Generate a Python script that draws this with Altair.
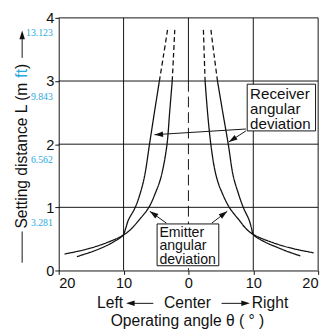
import math
import altair as alt
import pandas as pd

# ---------------- data ----------------
# Emitter angular deviation, solid part (angle in degrees, distance L in m)
emit_left_angle = [-19.1, -15.6, -12.6, -10.1, -8.9, -7.6, -6.1, -5.0, -4.45, -3.95, -3.3, -2.9, -2.5]
emit_left_L = [0.26, 0.34, 0.44, 0.556, 0.65, 0.80, 1.00, 1.25, 1.40, 1.60, 2.00, 2.50, 3.00]
emit_right_angle = [2.57, 2.95, 3.45, 4.05, 4.55, 5.1, 6.3, 7.8, 8.9, 10.0, 13.6, 16.4, 19.3]
emit_right_L = [3.00, 2.50, 2.00, 1.60, 1.40, 1.25, 1.00, 0.80, 0.66, 0.57, 0.42, 0.34, 0.28]
# Emitter, dashed part above 3 m
emit_left_top_angle = [-2.5, -2.3, -2.11]
emit_left_top_L = [3.0, 3.4, 3.81]
emit_right_top_angle = [2.57, 2.44, 2.31]
emit_right_top_L = [3.0, 3.4, 3.81]

# Receiver angular deviation, solid part
recv_left_angle = [-17.2, -14.8, -12.9, -11.6, -10.1, -9.7, -9.25, -8.2, -7.35, -6.75, -6.0, -5.25, -4.48]
recv_left_L = [0.22, 0.30, 0.38, 0.45, 0.556, 0.66, 0.80, 1.00, 1.25, 1.50, 2.00, 2.50, 3.00]
recv_right_angle = [4.48, 5.3, 6.14, 6.9, 7.6, 8.45, 9.35, 9.75, 10.0, 11.8, 13.6, 15.3, 17.25]
recv_right_L = [3.00, 2.50, 2.00, 1.50, 1.25, 1.00, 0.80, 0.66, 0.57, 0.45, 0.37, 0.30, 0.23]
# Receiver, dashed part above 3 m
recv_left_top_angle = [-4.48, -3.85, -3.22]
recv_left_top_L = [3.0, 3.4, 3.81]
recv_right_top_angle = [4.48, 3.97, 3.47]
recv_right_top_L = [3.0, 3.4, 3.81]

x_ticks = [-20, -10, 0, 10, 20]
y_ticks = [0, 1, 2, 3, 4]
grid_x = [-10, 10, 20]
grid_y = [1, 2, 3, 4]
ft_labels = ["3.281", "6.562", "9.843", "13.123"]
ft_label_L = [1, 2, 3, 4]

recv_text = ["Receiver", "angular", "deviation"]
emit_text = ["Emitter", "angular", "deviation"]

# annotation boxes (angle range, L range)
recv_box = dict(a1=9.06, a2=19.6, L1=2.21, L2=2.95)
emit_box = dict(a1=-4.83, a2=4.68, L1=0.075, L2=0.737)

# annotation arrows: start -> tip
arrow_a0 = [8.86, 8.86, -3.4, 3.6]
arrow_L0 = [2.24, 2.21, 0.75, 0.75]
arrow_a1 = [-5.24, 6.23, -5.95, 5.98]
arrow_L1 = [2.15, 2.035, 0.937, 0.937]

# ---------------- layout ----------------
W, H = 266, 259
PX_X = W / 40.0
PX_L = H / 4.0
FONT = "Liberation Sans"
BLUE = "#29a8e0"
INK = "#111"
HEAD = "M0,0L-0.7,2.2L0.7,2.2Z"

xs = alt.Scale(domain=[-20, 20], nice=False, zero=False)
ys = alt.Scale(domain=[0, 4], nice=False, zero=False)

rows = []
def add(name, style, angles, Ls):
    for a, l in zip(angles, Ls):
        rows.append({"curve": name + style, "style": style, "angle": a, "L": l})

add("el", "solid", emit_left_angle, emit_left_L)
add("er", "solid", emit_right_angle, emit_right_L)
add("rl", "solid", recv_left_angle, recv_left_L)
add("rr", "solid", recv_right_angle, recv_right_L)
add("el", "dash", emit_left_top_angle, emit_left_top_L)
add("er", "dash", emit_right_top_angle, emit_right_top_L)
add("rl", "dash", recv_left_top_angle, recv_left_top_L)
add("rr", "dash", recv_right_top_angle, recv_right_top_L)
curve_df = pd.DataFrame(rows)

x_axis = alt.Axis(values=x_ticks, labelExpr="abs(datum.value)", title=None, grid=False)
y_axis = alt.Axis(values=y_ticks, format="d", title=None, grid=False)

curves = alt.Chart(curve_df).mark_line(interpolate="catmull-rom", color=INK, strokeWidth=1.3).encode(
    x=alt.X("angle:Q", scale=xs, axis=x_axis),
    y=alt.Y("L:Q", scale=ys, axis=y_axis),
    detail="curve:N",
    strokeDash=alt.StrokeDash("style:N", scale=alt.Scale(domain=["solid", "dash"], range=[[1, 0], [5, 3]]), legend=None),
)

gx = alt.Chart(pd.DataFrame({"g": grid_x})).mark_rule(color=INK, strokeWidth=1).encode(
    x=alt.X("g:Q", scale=xs))
gy = alt.Chart(pd.DataFrame({"g": grid_y})).mark_rule(color=INK, strokeWidth=1).encode(
    y=alt.Y("g:Q", scale=ys))

center_solid = alt.Chart(pd.DataFrame({"a": [0], "l1": [3], "l2": [4]})).mark_rule(color=INK).encode(
    x=alt.X("a:Q", scale=xs), y=alt.Y("l1:Q", scale=ys), y2="l2:Q")
center_dash = alt.Chart(pd.DataFrame({"a": [0], "l1": [0], "l2": [3]})).mark_rule(
    color=INK, strokeDash=[11, 5]).encode(
    x=alt.X("a:Q", scale=xs), y=alt.Y("l2:Q", scale=ys), y2="l1:Q")

box_df = pd.DataFrame([recv_box, emit_box])
boxes = alt.Chart(box_df).mark_rect(fill="white", stroke=INK, strokeWidth=1).encode(
    x=alt.X("a1:Q", scale=xs), x2="a2:Q", y=alt.Y("L1:Q", scale=ys), y2="L2:Q")

# text baselines measured from each box's top edge (pixels)
recv_off = [15.5, 31.0, 45.5]
emit_off = [13.0, 27.0, 41.0]
recv_txt = alt.Chart(pd.DataFrame({
    "t": recv_text,
    "L": [recv_box["L2"] - o / PX_L for o in recv_off],
    "a": [recv_box["a1"] + 0.45] * 3})).mark_text(
    align="left", baseline="alphabetic", font=FONT, fontSize=15.5, color=INK).encode(
    x=alt.X("a:Q", scale=xs), y=alt.Y("L:Q", scale=ys), text="t:N")
emit_txt = alt.Chart(pd.DataFrame({
    "t": emit_text,
    "L": [emit_box["L2"] - o / PX_L for o in emit_off],
    "a": [emit_box["a1"] + 0.35] * 3})).mark_text(
    align="left", baseline="alphabetic", font=FONT, fontSize=14.5, color=INK).encode(
    x=alt.X("a:Q", scale=xs), y=alt.Y("L:Q", scale=ys), text="t:N")

arr_df = pd.DataFrame({"a0": arrow_a0, "L0": arrow_L0, "a1": arrow_a1, "L1": arrow_L1})
arr_df["rot"] = [
    math.degrees(math.atan2((a1 - a0) * PX_X, (L1 - L0) * PX_L)) % 360
    for a0, L0, a1, L1 in zip(arrow_a0, arrow_L0, arrow_a1, arrow_L1)
]
arr_lines = alt.Chart(arr_df).mark_rule(color=INK, strokeWidth=1).encode(
    x=alt.X("a0:Q", scale=xs), y=alt.Y("L0:Q", scale=ys), x2="a1:Q", y2="L1:Q")
arr_heads = alt.Chart(arr_df).mark_point(shape=HEAD, filled=True, fill=INK, size=64, strokeWidth=0, opacity=1).encode(
    x=alt.X("a1:Q", scale=xs), y=alt.Y("L1:Q", scale=ys), angle=alt.Angle("rot:Q", scale=None))

ft = alt.Chart(pd.DataFrame({"t": ft_labels, "L": ft_label_L})).mark_text(
    align="right", baseline="middle", dy=16, font="Liberation Sans Narrow", fontSize=10, color=BLUE).encode(
    x=alt.value(-6), y=alt.Y("L:Q", scale=ys), text="t:N")

def txt(text, px, py, **kw):
    return alt.Chart(pd.DataFrame({"t": [text]})).mark_text(font=FONT, **kw).encode(
        x=alt.value(px), y=alt.value(py), text="t:N")

def seg(x1, y1, x2, y2):
    return alt.Chart(pd.DataFrame({"k": [0]})).mark_rule(color=INK, strokeWidth=1).encode(
        x=alt.value(x1), y=alt.value(y1), x2=alt.value(x2), y2=alt.value(y2))

def head(px, py, rot):
    return alt.Chart(pd.DataFrame({"k": [0]})).mark_point(
        shape=HEAD, filled=True, fill=INK, size=64, strokeWidth=0, opacity=1).encode(
        x=alt.value(px), y=alt.value(py), angle=alt.value(rot))

# y title: "Setting distance L (m ft)" with ft in blue
fs = 16
ty0 = 216
w_main = 9.393 * fs
w_sp = 0.278 * fs
w_ft = 0.556 * fs
ytitle = [
    txt("Setting distance L (m", -38, ty0, angle=270, align="left", baseline="middle", fontSize=fs, color=INK),
    txt("ft", -38, ty0 - w_main - w_sp, angle=270, align="left", baseline="middle", fontSize=fs, color=BLUE),
    txt(")", -38, ty0 - w_main - w_sp - w_ft, angle=270, align="left", baseline="middle", fontSize=fs, color=INK),
    seg(-37.5, 219, -37.5, 251),
    seg(-37.5, 41, -37.5, 16),
    head(-37.5, 13, 0),
]

xtitle = [
    txt("Left", 66, 292.7, align="right", baseline="middle", fontSize=16, color=INK),
    seg(72, 292.7, 97, 292.7),
    head(69, 292.7, 270),
    txt("Center", 132, 292.7, align="center", baseline="middle", fontSize=16, color=INK),
    seg(167, 292.7, 193, 292.7),
    head(196, 292.7, 90),
    txt("Right", 198, 292.7, align="left", baseline="middle", fontSize=16, color=INK),
    txt("Operating angle θ ( ° )", 132, 311, align="center", baseline="middle", fontSize=16, color=INK),
]

chart = alt.layer(
    gx, gy, center_solid, center_dash, curves, boxes, recv_txt, emit_txt,
    arr_lines, arr_heads, ft, *ytitle, *xtitle
).properties(
    width=W, height=H,
    padding={"left": 52, "top": 6, "right": 6, "bottom": 61},
    autosize=alt.AutoSizeParams(type="none"),
).configure_view(stroke=None).configure_axis(
    domainColor=INK, tickColor=INK, labelColor=INK, labelFont=FONT,
    labelFontSize=15, tickSize=4, labelPadding=1, domainWidth=1, tickWidth=1,
)

chart.save("out.html", embed_options={"renderer": "svg", "actions": False})
